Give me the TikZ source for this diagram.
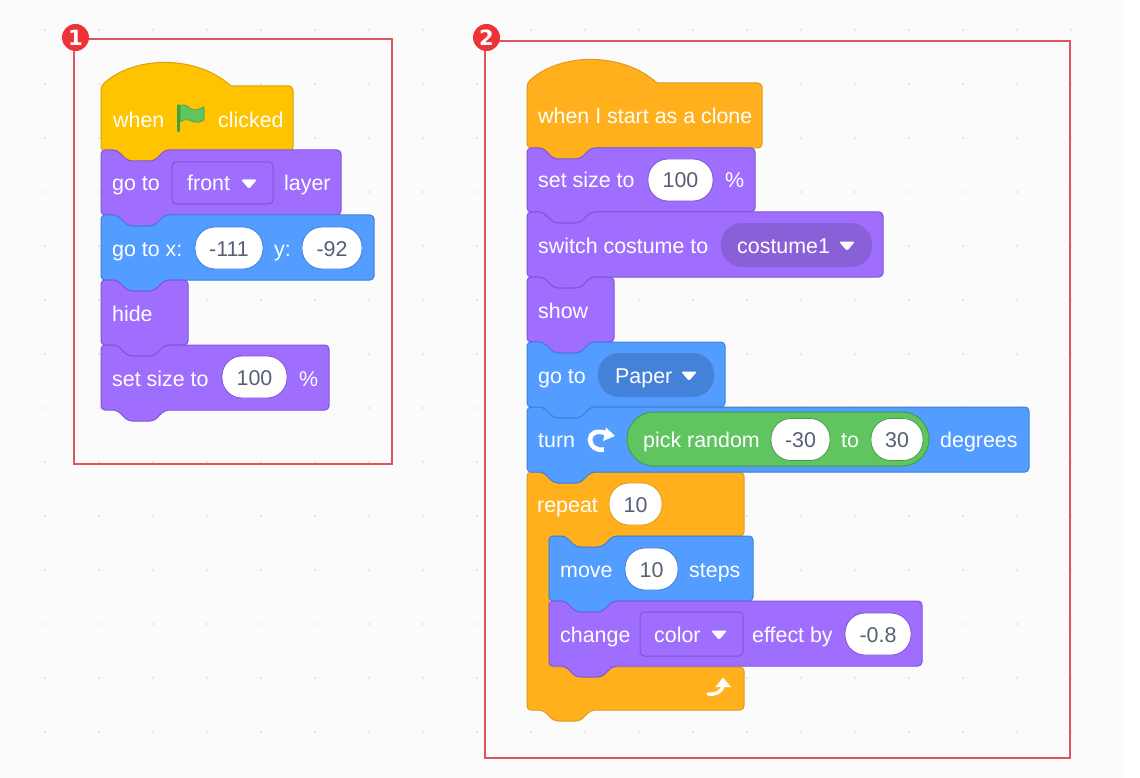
\documentclass[tikz,border=0pt]{standalone}
\usepackage{fontspec}
\setmainfont{Liberation Sans}
\newfontfamily\badgefont{DejaVu Sans}
\definecolor{paper}{HTML}{FBFBFB}
\definecolor{griddot}{HTML}{E2E2E2}
\definecolor{framered}{HTML}{E0555C}
\definecolor{badgered}{HTML}{EE3338}
\definecolor{eventfill}{HTML}{FFC300}
\definecolor{eventline}{HTML}{D9A20B}
\definecolor{controlfill}{HTML}{FFB01C}
\definecolor{controlline}{HTML}{DE9A1F}
\definecolor{looksfill}{HTML}{A06EFF}
\definecolor{looksline}{HTML}{7F55D6}
\definecolor{looksmenu}{HTML}{8A60D8}
\definecolor{motionfill}{HTML}{529DFF}
\definecolor{motionline}{HTML}{3F7FD8}
\definecolor{motionmenu}{HTML}{4482DA}
\definecolor{opfill}{HTML}{60C460}
\definecolor{opline}{HTML}{45A045}
\definecolor{inputtext}{HTML}{575E75}
\tikzstyle{eventblock}=[draw=eventline,fill=eventfill,line width=1pt,rounded corners=4pt]
\tikzstyle{controlblock}=[draw=controlline,fill=controlfill,line width=1pt,rounded corners=4pt]
\tikzstyle{looksblock}=[draw=looksline,fill=looksfill,line width=1pt,rounded corners=4pt]
\tikzstyle{motionblock}=[draw=motionline,fill=motionfill,line width=1pt,rounded corners=4pt]
\tikzstyle{blockfont}=[font=\fontsize{21.4}{26}\selectfont]
\tikzstyle{blocktext}=[blockfont,anchor=base west,inner sep=0pt,text=white]
\tikzstyle{numinput}=[blockfont,fill=white,line width=0.8pt,rounded corners=20pt,minimum height=42pt,inner sep=0pt,text=inputtext,text height=16pt,text depth=0pt]
\tikzstyle{menupill}=[rounded corners=21pt,minimum height=44pt,inner sep=0pt]
\tikzstyle{frame}=[draw=framered,line width=2pt]
\tikzstyle{badge}=[circle,fill=badgered,minimum size=27pt,inner sep=0pt,text=white,font=\fontsize{21}{21}\selectfont\badgefont\bfseries]
\tikzstyle{caret}=[fill=white,rounded corners=2pt]
\begin{document}
\begin{tikzpicture}[x=1pt,y=-1pt]
	\useasboundingbox (0,0) rectangle (1140,778);
	\fill[white] (0,0) rectangle (1140,778);
	\fill[paper] (0,0) rectangle (1124,778);

	% Dots of the workspace
	\foreach \col in {0,...,19}
	\foreach \row in {0,...,13}
	\fill[griddot] (45+54*\col,30+54*\row) circle (1.2pt);

	% The two red frames with their numbers
	\path[frame] (74,39) rectangle (392,464);
	\path[frame] (485,41) rectangle (1070,758);
	\node[badge] (one) at (75.5,37.5) {1};
	\node[badge] (two) at (486.5,37.5) {2};

	% Hat blocks
	\foreach \x/\y/\w/\h/\kind in {101/86/192/65/eventblock, 527/83/235/65/controlblock}
	\path[\kind,sharp corners] (\x,\y) .. controls (\x+34,\y-31) and (\x+96,\y-31) .. (\x+130,\y) [rounded corners=4pt] -- (\x+\w,\y) -- ++(0,\h) -- (\x+64,\y+\h) -- ++(-11,11) -- ++(-26,0) -- ++(-11,-11) -- (\x,\y+\h) -- cycle;

	% The C block goes under what it holds
	\path[controlblock] (527,472) -- (543,472) -- ++(11,11) -- ++(26,0) -- ++(11,-11) -- (744,472) -- (744,536) -- (613,536) -- ++(-11,11) -- ++(-26,0) -- ++(-11,-11) -- (549,536) -- (549,667) -- (744,667) -- (744,710) -- (591,710) -- ++(-11,11) -- ++(-26,0) -- ++(-11,-11) -- (527,710) -- cycle;

	% Stack blocks, from the top down
	\foreach \x/\y/\w/\h/\kind in {101/150/240/65/looksblock, 101/215/273/65/motionblock, 101/280/87/65/looksblock, 101/345/228/65/looksblock,
		527/148/228/64/looksblock, 527/212/356/65/looksblock, 527/277/87/65/looksblock, 527/342/198/65/motionblock, 527/407/502/65/motionblock,
		549/536/204/65/motionblock, 549/601/373/65/looksblock}
	\path[\kind] (\x,\y) -- ++(16,0) -- ++(11,11) -- ++(26,0) -- ++(11,-11) -- (\x+\w,\y) -- ++(0,\h) -- (\x+64,\y+\h) -- ++(-11,11) -- ++(-26,0) -- ++(-11,-11) -- (\x,\y+\h) -- cycle;

	% Menus and the operator
	\node[draw=looksline,fill=looksfill,line width=1pt,rounded corners=4pt,minimum width=101pt,minimum height=42pt,inner sep=0pt] (frontmenu) at (222.5,183) {};
	\node[draw=looksline,fill=looksfill,line width=1pt,rounded corners=4pt,minimum width=103pt,minimum height=44pt,inner sep=0pt] (colormenu) at (691.5,634) {};
	\node[menupill,fill=looksmenu,minimum width=151pt] (costumemenu) at (796.5,245) {};
	\node[menupill,fill=motionmenu,minimum width=116pt] (papermenu) at (656,375) {};
	\node[draw=opline,fill=opfill,line width=1pt,rounded corners=27pt,minimum width=302pt,minimum height=54pt,inner sep=0pt] (pickrandom) at (778,439) {};

	% Number inputs
	\foreach \name/\x/\y/\w/\val/\edge in {xinput/229/248/68/-111/motionline, yinput/332/248/60/-92/motionline, sizeone/254.5/377/65/100/looksline,
		sizetwo/680.5/180/65/100/looksline, fromval/800.5/439.5/59/-30/opline, toval/897/439.5/52/30/opline,
		repeatval/635.5/504/53/10/controlline, stepsval/651.5/569/53/10/motionline, effectval/878/634/66/-0.8/looksline}
	\node[numinput,draw=\edge,minimum width=\w pt] (\name) at (\x,\y) {\val};

	% Labels
	\foreach \name/\x/\y/\txt in {when/113/128/when, clicked/218/128/clicked, goto/112/191/go to, front/187/191/front, layer/284/191/layer,
		gotox/112/256/go to x:, ylabel/274/256/y:, hide/112/321/hide, setsize/112/386/set size to, percent/299/386/\%,
		clone/538/123.5/when I start as a clone, settwo/538/188/set size to, percenttwo/725/188/\%,
		switch/538/253/switch costume to, costume/737/253/costume1, show/538/318/show, gotwo/538/383/go to, paperlabel/615/383/Paper,
		turn/538/447/turn, pick/643/447/pick random, tolabel/841/447/to, degrees/940/447/degrees,
		repeat/537/512/repeat, move/560/577/move, steps/689/577/steps, change/560/642/change, colorlabel/654/642/color, effect/752/642/effect by}
	\node[blocktext] (\name) at (\x,\y) {\txt};

	% Little triangles of the menus
	\foreach \x/\y in {249/184, 847/246, 689/376, 719/635}
	\path[caret] (\x-8,\y-4.5) -- (\x+8,\y-4.5) -- (\x,\y+5) -- cycle;

	% Flag
	\filldraw[fill=opfill,draw=opline,line width=0.6pt] (180,105.5) .. controls (187,103) and (190,110) .. (194,110) .. controls (198,110) and (201,108) .. (204,107) -- (204,120) .. controls (198,124) and (193,122) .. (189,120) .. controls (186,119) and (183,120) .. (180,122) -- cycle;
	\draw[opline,line width=2.6pt,line cap=round] (178.5,105.5) -- (178.5,131);

	% Turn arrow
	\draw[white,line width=4.6pt] (604,449.5) .. controls (596,451) and (590,446) .. (590,439.5) .. controls (590,433) and (597,430) .. (605,433);
	\fill[white] (606,427.5) -- (615,436) -- (603,441) -- cycle;

	% Loop arrow
	\draw[white,line width=3.4pt,line cap=round] (708,694) .. controls (716,695) and (722,692) .. (723,685);
	\fill[white] (723,677.5) -- (731,687) -- (715.5,687) -- cycle;
\end{tikzpicture}
\end{document}
